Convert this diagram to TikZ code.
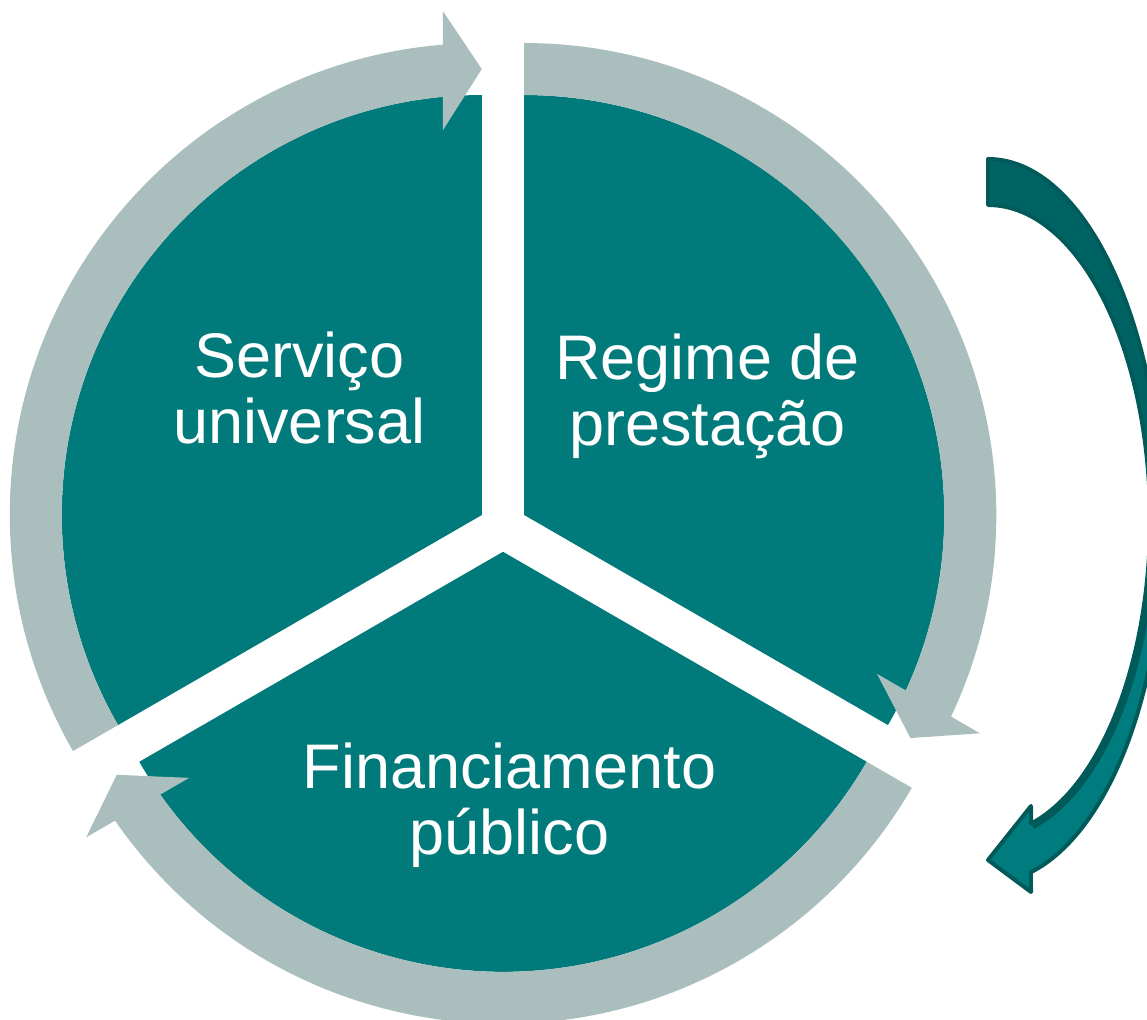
\documentclass[tikz,border=0pt]{standalone}
\usepackage{fontspec}
\setmainfont{Liberation Sans}
\usepackage{tikz}
\usetikzlibrary{calc}

\definecolor{sectorteal}{RGB}{0,122,122}
\definecolor{bandgray}{RGB}{171,190,190}
\definecolor{arrowedge}{RGB}{0,90,90}
\definecolor{arrowback}{RGB}{0,99,99}
\definecolor{arrowfront}{RGB}{0,124,126}

\tikzset{sectortext/.style={text=white, inner sep=0pt, align=center, font=\fontsize{63}{66}\selectfont}}

\begin{document}
\begin{tikzpicture}[x=1pt, y=1pt]
\pgfmathsetmacro{\cx}{503} % centre
\pgfmathsetmacro{\cy}{491.7}
\pgfmathsetmacro{\d}{24.5} % gap between sectors
\pgfmathsetmacro{\R}{420} % sector radius
\pgfmathsetmacro{\Ro}{472} % outer radius of the grey band
\clip (0,0) rectangle (1147,1019);
\fill[white] (0,0) rectangle (1147,1019);

% top left
\begin{scope}[shift={(\cx,\cy)}, shift={(150:\d)}]
\fill[sectorteal] (0,0) -- (90:\R) arc (90:210:\R) -- cycle;
\fill[bandgray] (210:\R) arc (210:95.31:\R) -- (95.77:386.8) -- (90:446) -- (94.41:505.3) -- (94.72:\Ro) arc (94.72:210:\Ro) -- cycle;
\end{scope}

% top right
\begin{scope}[shift={(\cx,\cy)}, shift={(30:\d)}]
\fill[sectorteal] (0,0) -- (-30:\R) arc (-30:90:\R) -- cycle;
\fill[bandgray] (90:\R) arc (90:-24.69:\R) -- (-24.23:386.8) -- (-30:446) -- (-25.59:505.3) -- (-25.28:\Ro) arc (-25.28:90:\Ro) -- cycle;
\end{scope}

% bottom
\begin{scope}[shift={(\cx,\cy)}, shift={(270:\d)}]
\fill[sectorteal] (0,0) -- (210:\R) arc (210:330:\R) -- cycle;
\fill[bandgray] (330:\R) arc (330:215.31:\R) -- (215.77:386.8) -- (210:446) -- (214.41:505.3) -- (214.72:\Ro) arc (214.72:330:\Ro) -- cycle;
\end{scope}

\node[sectortext, anchor=north] (servico) at (299.5,687.5) {Serviço\\universal};
\node[sectortext, anchor=north] (regime) at (707.5,685.5) {Regime de\\prestação};
\node[sectortext, anchor=north] (financiamento) at (509.5,276.5) {Financiamento\\público};

% curved arrow on the right
\fill[arrowfront] (988,860) arc[start angle=90, end angle=0, x radius=175, y radius=371]
  arc[start angle=0, end angle=-75.8, x radius=175, y radius=353]
  -- (1031,127) -- (988,159) -- (1031,213) -- (1031,195.3)
  arc[start angle=-74.6, end angle=90, x radius=162, y radius=315] -- cycle;
\fill[arrowback] (988,860) arc[start angle=90, end angle=0, x radius=175, y radius=371]
  -- (1150,499) arc[start angle=0, end angle=90, x radius=162, y radius=315] -- cycle;
\begin{scope}
\clip (1150,499) arc[start angle=0, end angle=-74.6, x radius=162, y radius=315]
  -- (1031,146.8) arc[start angle=-75.8, end angle=0, x radius=175, y radius=353] -- cycle;
\draw[arrowedge, line width=12] (1150,499) arc[start angle=0, end angle=-74.6, x radius=162, y radius=315];
\end{scope}
\draw[arrowedge, line width=4, line join=round] (988,860) arc[start angle=90, end angle=0, x radius=175, y radius=371]
  arc[start angle=0, end angle=-75.8, x radius=175, y radius=353]
  -- (1031,127) -- (988,159) -- (1031,213) -- (1031,195.3)
  arc[start angle=-74.6, end angle=90, x radius=162, y radius=315] -- cycle;
\end{tikzpicture}
\end{document}
